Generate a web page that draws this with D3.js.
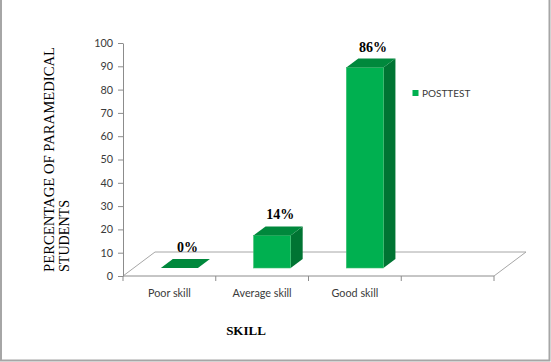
<!DOCTYPE html>
<html lang="en">
<head>
    <meta charset="UTF-8">
    <title>Skill - Posttest</title>
    <script src="https://d3js.org/d3.v7.min.js"></script>
    <style>
        body { margin: 0; background: #fff; }
        svg { display: block; }
    </style>
</head>
<body>

    <svg width="551" height="362"></svg>

    <script>
        // Chart data
        const categories = ["Poor skill", "Average skill", "Good skill"];
        const posttest = [0, 14, 86];
        const valueLabels = ["0%", "14%", "86%"];
        const yTicks = [0, 10, 20, 30, 40, 50, 60, 70, 80, 90, 100];
        const seriesName = "POSTTEST";

        const width = 551, height = 362;
        const plotLeft = 123, plotTop = 43, plotBottom = 276;
        const step = 92.75;               // width of one category slot
        const slots = 4;                  // 3 categories + one empty slot on the floor
        const floorDx = 32, floorDy = -24; // depth of the 3D floor
        const barDx = 10, barDy = -8;     // bars sit a third of the way into the floor
        const depthDx = 12, depthDy = -9; // thickness of each bar

        const svg = d3.select("svg");

        // outer frame (left, right, bottom)
        svg.append("path")
            .attr("d", `M1,0 V${height - 1.5} H${width - 1.5} V0`)
            .attr("fill", "none")
            .attr("stroke", "#a6a6a6")
            .attr("stroke-width", 2);

        const xScale = d3.scaleBand()
            .domain(categories)
            .range([plotLeft, plotLeft + step * categories.length])
            .paddingInner(0.6)
            .paddingOuter(0.3);

        const yScale = d3.scaleLinear()
            .domain([0, 100])
            .range([plotBottom, plotTop]);

        const plotRight = plotLeft + step * slots;

        // floor
        svg.append("path")
            .attr("d", `M${plotLeft},${plotBottom} L${plotLeft + floorDx},${plotBottom + floorDy} H${plotRight + floorDx} L${plotRight},${plotBottom}`)
            .attr("fill", "none")
            .attr("stroke", "#a6a6a6")
            .attr("stroke-width", 1);

        // x axis line + ticks between categories
        svg.append("line")
            .attr("x1", plotLeft).attr("x2", plotRight)
            .attr("y1", plotBottom).attr("y2", plotBottom)
            .attr("stroke", "#8c8c8c");
        svg.append("g").selectAll("line")
            .data(d3.range(slots + 1))
            .join("line")
            .attr("x1", i => plotLeft + i * step).attr("x2", i => plotLeft + i * step)
            .attr("y1", plotBottom).attr("y2", plotBottom + 5)
            .attr("stroke", "#8c8c8c");

        svg.append("g").selectAll("text")
            .data(categories)
            .join("text")
            .attr("x", d => xScale(d) + xScale.bandwidth() / 2)
            .attr("y", plotBottom + 21)
            .attr("text-anchor", "middle")
            .attr("font-family", "Lato, sans-serif")
            .attr("font-size", 10.8)
            .attr("fill", "#3a3a3a")
            .text(d => d);

        // y axis
        const yAxis = svg.append("g")
            .attr("transform", `translate(${plotLeft},0)`)
            .call(d3.axisLeft(yScale).tickValues(yTicks).tickSize(5).tickSizeOuter(0).tickPadding(5));
        yAxis.select(".domain").attr("stroke", "#8c8c8c");
        yAxis.selectAll(".tick line").attr("stroke", "#8c8c8c");
        yAxis.selectAll(".tick text")
            .attr("font-family", "Lato, sans-serif")
            .attr("font-size", 10.8)
            .attr("fill", "#3a3a3a");

        // 3D bars
        const bars = svg.append("g");
        categories.forEach((c, i) => {
            const x0 = xScale(c) + barDx;
            const x1 = x0 + xScale.bandwidth();
            const yb = yScale(0) + barDy;
            const yt = yScale(posttest[i]) + barDy;

            // side
            bars.append("path")
                .attr("d", `M${x1},${yt} L${x1 + depthDx},${yt + depthDy} V${yb + depthDy} L${x1},${yb} Z`)
                .attr("fill", "#007433");
            // front
            if (yb - yt > 0) {
                bars.append("rect")
                    .attr("x", x0).attr("y", yt)
                    .attr("width", x1 - x0).attr("height", yb - yt)
                    .attr("fill", "#00b050")
                    .attr("stroke", "#3cc070")
                    .attr("stroke-width", 0.6);
            }
            // top
            bars.append("path")
                .attr("d", `M${x0},${yt} L${x0 + depthDx},${yt + depthDy} H${x1 + depthDx} L${x1},${yt} Z`)
                .attr("fill", "#00883c");

            // value label
            svg.append("text")
                .attr("x", (x0 + x1) / 2 + 8)
                .attr("y", yt - 16)
                .attr("text-anchor", "middle")
                .attr("font-family", "'Liberation Serif', 'Times New Roman', serif")
                .attr("font-weight", "bold")
                .attr("font-size", 14)
                .attr("fill", "#000")
                .text(valueLabels[i]);
        });

        // legend
        svg.append("rect")
            .attr("x", 412.5).attr("y", 90)
            .attr("width", 6).attr("height", 6)
            .attr("fill", "#00b050");
        svg.append("text")
            .attr("x", 422).attr("y", 96.5)
            .attr("font-family", "Lato, sans-serif")
            .attr("font-size", 10)
            .attr("fill", "#3a3a3a")
            .text(seriesName);

        // axis titles
        const yTitle = svg.append("text")
            .attr("transform", "translate(53.5,272) rotate(-90)")
            .attr("font-family", "'Liberation Serif', 'Times New Roman', serif")
            .attr("font-size", 14.5)
            .attr("fill", "#000");
        yTitle.append("tspan").attr("x", 0).attr("y", 0)
            .attr("textLength", 225).attr("lengthAdjust", "spacingAndGlyphs")
            .text("PERCENTAGE OF PARAMEDICAL");
        yTitle.append("tspan").attr("x", 0).attr("y", 15)
            .attr("textLength", 72).attr("lengthAdjust", "spacingAndGlyphs")
            .text("STUDENTS");

        svg.append("text")
            .attr("x", 246).attr("y", 335)
            .attr("text-anchor", "middle")
            .attr("font-family", "'Liberation Serif', 'Times New Roman', serif")
            .attr("font-weight", "bold")
            .attr("font-size", 13)
            .attr("fill", "#000")
            .text("SKILL");
    </script>

</body>
</html>
